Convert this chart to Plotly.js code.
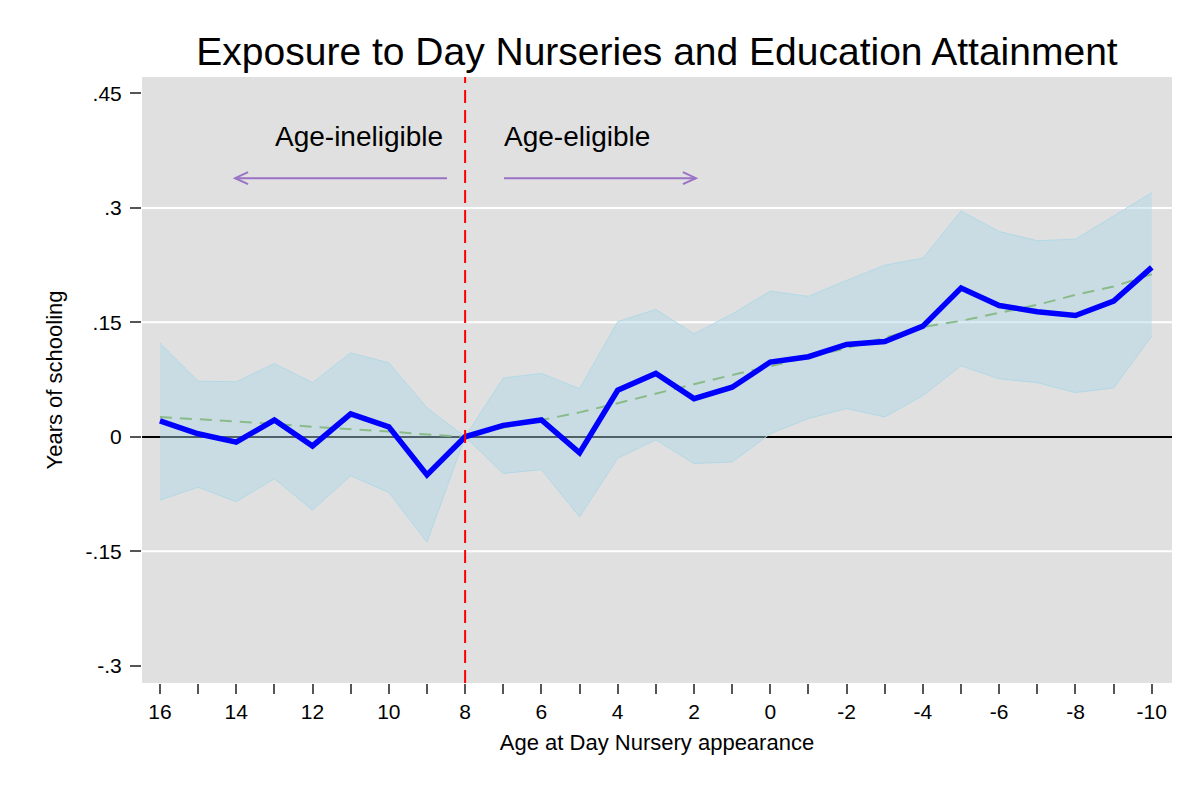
<!DOCTYPE html>
<html>
<head>
<meta charset="utf-8">
<script src="https://cdn.plot.ly/plotly-3.0.1.min.js"></script>
<style>
  body { margin: 0; background: #fff; }
  #chart { width: 1200px; height: 800px; }
</style>
</head>
<body>
<div id="chart"></div>
<script>
// age at day nursery appearance (x axis runs from 16 down to -10)
var ages = [16, 15, 14, 13, 12, 11, 10, 9, 8, 7, 6, 5, 4, 3, 2, 1, 0,
            -1, -2, -3, -4, -5, -6, -7, -8, -9, -10];

// point estimates, years of schooling
var estimate = [0.021, 0.004, -0.007, 0.022, -0.012, 0.030, 0.013, -0.050, 0.000,
                0.015, 0.022, -0.021, 0.061, 0.083, 0.050, 0.065, 0.098,
                0.105, 0.121, 0.125, 0.145, 0.195, 0.172, 0.164, 0.159, 0.178, 0.222];

// confidence band
var ciUpper = [0.123, 0.073, 0.072, 0.096, 0.071, 0.110, 0.097, 0.038, 0.000,
               0.077, 0.083, 0.063, 0.151, 0.167, 0.135, 0.161, 0.191,
               0.184, 0.205, 0.225, 0.234, 0.296, 0.269, 0.257, 0.259, 0.289, 0.320];
var ciLower = [-0.083, -0.066, -0.085, -0.055, -0.096, -0.051, -0.073, -0.138, 0.000,
               -0.048, -0.043, -0.105, -0.028, -0.004, -0.035, -0.033, 0.004,
               0.024, 0.037, 0.026, 0.054, 0.093, 0.076, 0.071, 0.058, 0.064, 0.132];

// fitted trend (dashed green)
var trend = [0.026, 0.023, 0.020, 0.017, 0.013, 0.010, 0.007, 0.003, 0.000,
             0.012, 0.022, 0.032, 0.044, 0.057, 0.069, 0.081, 0.093,
             0.104, 0.116, 0.130, 0.144, 0.152, 0.162, 0.173, 0.186, 0.197, 0.213];

var xTickVals = [16, 14, 12, 10, 8, 6, 4, 2, 0, -2, -4, -6, -8, -10];
var xTickText = ['16', '14', '12', '10', '8', '6', '4', '2', '0', '-2', '-4', '-6', '-8', '-10'];
var yTickVals = [0.45, 0.3, 0.15, 0, -0.15, -0.3];
var yTickText = ['.45', '.3', '.15', '0', '-.15', '-.3'];
var gridLevels = [0.3, 0.15, -0.15];

var cutoffAge = 8;
var labels = [
  {text: 'Age-ineligible', x: 10.79, y: 0.394, from: 8.475, to: 14.03},
  {text: 'Age-eligible', x: 5.07, y: 0.394, from: 6.98, to: 1.95}
];
var arrowY = 0.339;

var font = 'Liberation Sans, Arial, sans-serif';
var purple = '#9a72c6';

var traces = [
  {
    x: ages, y: ciLower, type: 'scatter', mode: 'lines',
    line: {color: 'rgba(173,216,230,0.9)', width: 1},
    hoverinfo: 'skip', showlegend: false
  },
  {
    x: ages, y: ciUpper, type: 'scatter', mode: 'lines',
    fill: 'tonexty', fillcolor: 'rgba(173,216,230,0.45)',
    line: {color: 'rgba(173,216,230,0.9)', width: 1},
    hoverinfo: 'skip', showlegend: false
  },
  {
    x: ages, y: trend, type: 'scatter', mode: 'lines',
    line: {color: '#88bb88', width: 2, dash: '12px,8px'},
    showlegend: false
  },
  {
    x: ages, y: estimate, type: 'scatter', mode: 'lines',
    line: {color: '#0000ff', width: 5.5},
    showlegend: false
  }
];

var shapes = [];
gridLevels.forEach(function (g) {
  shapes.push({
    type: 'line', layer: 'below', xref: 'x domain', yref: 'y',
    x0: 0, x1: 1, y0: g, y1: g,
    line: {color: '#ffffff', width: 2}
  });
});
shapes.push({
  type: 'line', xref: 'x', yref: 'y domain',
  x0: cutoffAge, x1: cutoffAge, y0: 0, y1: 1,
  line: {color: '#ff0000', width: 2, dash: '13px,7px'}
});

var annotations = [];
labels.forEach(function (l) {
  annotations.push({
    text: l.text, x: l.x, y: l.y, xref: 'x', yref: 'y',
    showarrow: false, xanchor: 'center', yanchor: 'middle',
    font: {family: font, size: 28, color: '#000'}
  });
  // arrow shaft
  shapes.push({
    type: 'line', xref: 'x', yref: 'y',
    x0: l.from, x1: l.to, y0: arrowY, y1: arrowY,
    line: {color: purple, width: 2}
  });
  // open chevron head, drawn in pixels around the tip
  var dir = l.to > l.from ? 1 : -1;   // +1: points toward larger age (left)
  shapes.push({
    type: 'path', xref: 'x', yref: 'y',
    xsizemode: 'pixel', ysizemode: 'pixel',
    xanchor: l.to, yanchor: arrowY,
    path: 'M ' + (13 * dir) + ',6 L 0,0 L ' + (13 * dir) + ',-6',
    line: {color: purple, width: 2}
  });
});

var layout = {
  width: 1200, height: 800,
  margin: {l: 142, r: 28, t: 77, b: 117},
  paper_bgcolor: '#ffffff',
  plot_bgcolor: '#e0e0e0',
  font: {family: font, size: 22, color: '#000'},
  title: {
    text: 'Exposure to Day Nurseries and Education Attainment',
    font: {family: font, size: 39, color: '#000'},
    xref: 'paper', x: 0.5, xanchor: 'center',
    yref: 'container', y: 0.936, yanchor: 'middle'
  },
  xaxis: {
    range: [16.47, -10.53],
    tickmode: 'array', tickvals: xTickVals, ticktext: xTickText,
    ticks: 'outside', ticklen: 10, tickwidth: 2, tickcolor: '#555',
    minor: {dtick: 1, tick0: 0, ticks: 'outside', ticklen: 10, tickwidth: 2, tickcolor: '#555'},
    showgrid: false, zeroline: false, showline: false,
    tickfont: {family: font, size: 21, color: '#000'},
    title: {text: 'Age at Day Nursery appearance', standoff: 12,
            font: {family: font, size: 22, color: '#000'}}
  },
  yaxis: {
    range: [-0.3227, 0.4716],
    tickmode: 'array', tickvals: yTickVals, ticktext: yTickText,
    ticks: 'outside', ticklen: 11, tickwidth: 2, tickcolor: '#555',
    ticklabelstandoff: 4,
    showgrid: false, showline: false,
    zeroline: true, zerolinecolor: '#000', zerolinewidth: 1.5,
    tickfont: {family: font, size: 21, color: '#000'},
    title: {text: 'Years of schooling', standoff: 16,
            font: {family: font, size: 22, color: '#000'}}
  },
  shapes: shapes,
  annotations: annotations
};

Plotly.newPlot('chart', traces, layout, {displayModeBar: false, staticPlot: true});
</script>
</body>
</html>
